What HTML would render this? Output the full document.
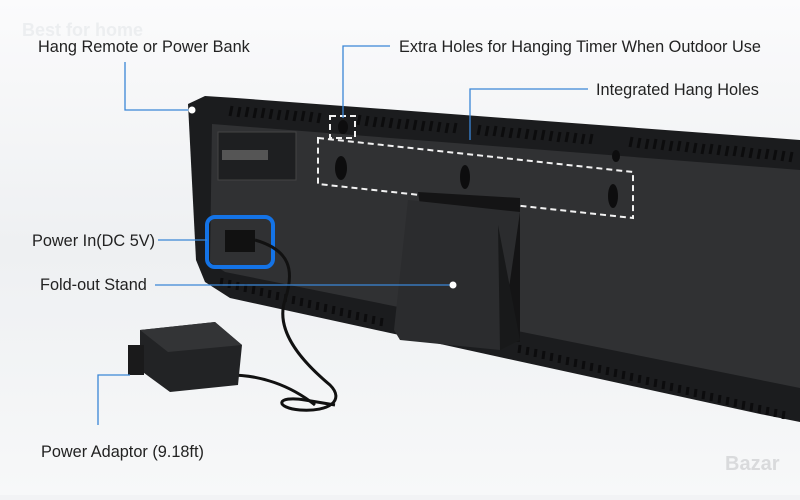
<!DOCTYPE html>
<html><head><meta charset="utf-8"><style>
html,body{margin:0;padding:0}
body{width:800px;height:495px;overflow:hidden;background:#f2f3f5;font-family:"Liberation Sans",sans-serif}
</style></head><body>
<svg width="800" height="495" viewBox="0 0 800 495" xmlns="http://www.w3.org/2000/svg">
<defs>
<linearGradient id="bg" x1="0" y1="0" x2="0" y2="1"><stop offset="0" stop-color="#fbfbfc"/><stop offset="0.5" stop-color="#eef0f2"/><stop offset="1" stop-color="#f7f8f9"/></linearGradient>
</defs>
<rect width="800" height="495" fill="url(#bg)"/>
<path d="M188,104 L205,96 L236,98 L800,140 L800,422 L760,414 L230,298 L205,282 L196,260 Z" fill="#1b1c1e"/>
<path d="M212,124 L800,170 L800,388 L225,272 L210,262 Z" fill="#303133"/>
<g stroke="#0c0c0d" stroke-width="3">
<path d="M232,106 l-2,10 M240,107 l-2,10 M248,107 l-2,10 M256,108 l-2,10 M264,108 l-2,10 M272,109 l-2,10 M280,110 l-2,10 M288,110 l-2,10 M296,111 l-2,10 M304,111 l-2,10 M312,112 l-2,10 M320,113 l-2,10 M360,115 l-2,10 M368,116 l-2,10 M376,117 l-2,10 M384,117 l-2,10 M392,118 l-2,10 M400,119 l-2,10 M408,119 l-2,10 M416,120 l-2,10 M424,121 l-2,10 M432,121 l-2,10 M440,122 l-2,10 M448,123 l-2,10 M456,123 l-2,10 M480,125 l-2,10 M488,126 l-2,10 M496,126 l-2,10 M504,127 l-2,10 M512,128 l-2,10 M520,128 l-2,10 M528,129 l-2,10 M536,130 l-2,10 M544,130 l-2,10 M552,131 l-2,10 M560,132 l-2,10 M568,132 l-2,10 M576,133 l-2,10 M584,134 l-2,10 M592,134 l-2,10 M632,137 l-2,10 M640,138 l-2,10 M648,139 l-2,10 M656,139 l-2,10 M664,140 l-2,10 M672,141 l-2,10 M680,141 l-2,10 M688,142 l-2,10 M696,143 l-2,10 M704,144 l-2,10 M712,144 l-2,10 M720,145 l-2,10 M728,146 l-2,10 M736,146 l-2,10 M744,147 l-2,10 M752,148 l-2,10 M760,149 l-2,10 M768,149 l-2,10 M776,150 l-2,10 M784,151 l-2,10 M792,152 l-2,10"/>
<path d="M222,278 l-1,8 M230,280 l-1,8 M238,282 l-1,8 M246,284 l-1,8 M254,286 l-1,8 M262,288 l-1,8 M270,290 l-1,8 M278,292 l-1,8 M286,294 l-1,8 M294,296 l-1,8 M302,298 l-1,8 M310,300 l-1,8 M318,302 l-1,8 M326,304 l-1,8 M334,306 l-1,8 M342,308 l-1,8 M350,310 l-1,8 M358,312 l-1,8 M366,314 l-1,8 M374,316 l-1,8 M382,318 l-1,8 M520,345 l-1,8 M528,347 l-1,8 M536,349 l-1,8 M544,351 l-1,8 M552,353 l-1,8 M560,355 l-1,8 M568,357 l-1,8 M576,359 l-1,8 M584,361 l-1,8 M592,363 l-1,8 M600,365 l-1,8 M608,367 l-1,8 M616,369 l-1,8 M624,371 l-1,8 M632,373 l-1,8 M640,375 l-1,8 M648,377 l-1,8 M656,379 l-1,8 M664,381 l-1,8 M672,383 l-1,8 M680,385 l-1,8 M688,387 l-1,8 M696,389 l-1,8 M704,391 l-1,8 M712,393 l-1,8 M720,395 l-1,8 M728,397 l-1,8 M736,399 l-1,8 M744,401 l-1,8 M752,403 l-1,8 M760,405 l-1,8 M768,407 l-1,8 M776,409 l-1,8 M784,411 l-1,8"/>
</g>
<rect x="218" y="132" width="78" height="48" fill="#1e1f21" stroke="#444" stroke-width="1"/>
<rect x="222" y="150" width="46" height="10" fill="#555"/>
<g fill="#0d0d0e"><ellipse cx="341" cy="168" rx="6" ry="12"/><ellipse cx="465" cy="177" rx="5" ry="12"/><ellipse cx="613" cy="196" rx="5" ry="12"/><ellipse cx="343" cy="127" rx="5" ry="7"/><ellipse cx="616" cy="156" rx="4" ry="6"/></g>
<g fill="none" stroke="#f2f2f2" stroke-width="2" stroke-dasharray="6,4">
<path d="M318,138 L633,172 L633,218 L318,184 Z"/>
<rect x="330" y="116" width="25" height="22"/>
</g>
<path d="M418,192 L520,198 L520,342 L440,340 Z" fill="#141415"/>
<path d="M408,200 L520,212 L500,350 L400,340 L394,330 Z" fill="#2b2c2e"/>
<path d="M498,225 L520,340 L500,350 Z" fill="#18191a"/>
<rect x="207" y="217" width="66" height="50" rx="8" fill="none" stroke="#1473e6" stroke-width="4"/>
<rect x="225" y="230" width="30" height="22" fill="#111"/>
<path d="M255,240 C290,250 295,270 285,300 C275,330 300,360 330,385 C345,400 330,412 300,410 C275,408 275,395 305,400 L335,405" fill="none" stroke="#111" stroke-width="3"/>
<path d="M230,375 C260,375 290,385 315,405" fill="none" stroke="#111" stroke-width="3"/>
<path d="M140,330 L215,322 L242,345 L238,385 L170,392 L140,370 Z" fill="#222325"/>
<path d="M140,330 L215,322 L242,345 L168,352 Z" fill="#333436"/>
<rect x="128" y="345" width="16" height="30" fill="#1a1a1b"/>
<g fill="none" stroke="#3a86d6" stroke-width="1.3">
<path d="M125,62 L125,110 L190,110"/>
<path d="M390,46 L343,46 L343,118"/>
<path d="M588,89 L470,89 L470,140"/>
<path d="M158,240 L207,240"/>
<path d="M155,285 L452,285"/>
<path d="M130,375 L98,375 L98,425"/>
</g>
<circle cx="192" cy="110" r="3.5" fill="#fff"/>
<circle cx="453" cy="285" r="3.5" fill="#fff"/>
<g font-size="16.3" fill="#222">
<text x="38" y="52">Hang Remote or Power Bank</text>
<text x="399" y="52">Extra Holes for Hanging Timer When Outdoor Use</text>
<text x="596" y="95">Integrated Hang Holes</text>
<text x="32" y="246">Power In(DC 5V)</text>
<text x="40" y="290">Fold-out Stand</text>
<text x="41" y="457">Power Adaptor (9.18ft)</text>
</g>
<text x="22" y="36" font-size="18" font-weight="bold" fill="#eceef0">Best for home</text>
<text x="725" y="470" font-size="20" font-weight="bold" fill="#d9dadc">Bazar</text>
</svg>
</body></html>
